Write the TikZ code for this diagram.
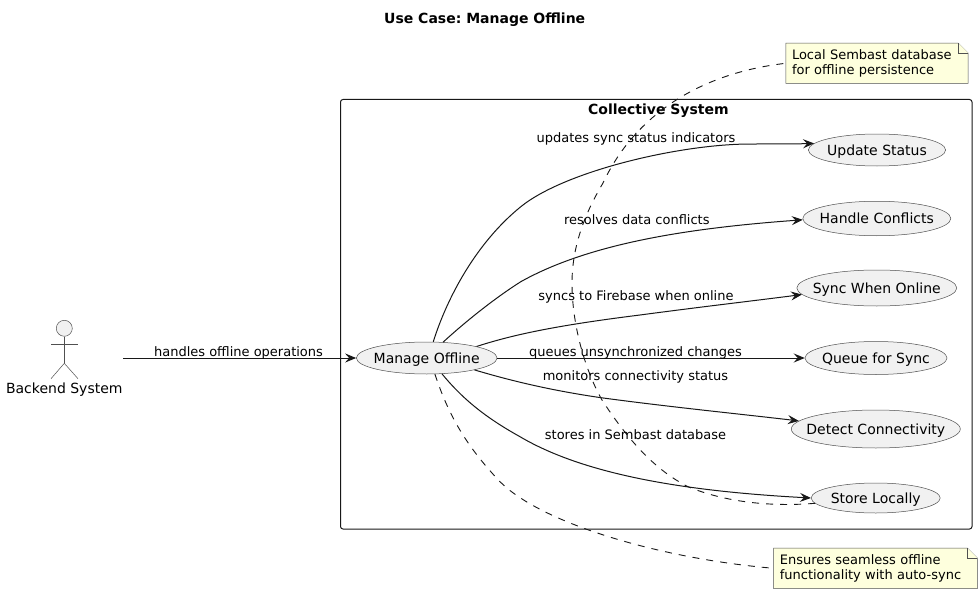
\documentclass[tikz,border=0pt]{standalone}
\usepackage{fontspec}
\setmainfont{DejaVu Sans}
\usetikzlibrary{shapes.geometric,arrows.meta,backgrounds}
\definecolor{umlline}{HTML}{181818}
\definecolor{umlthin}{HTML}{505050}
\definecolor{umlfill}{HTML}{F1F1F1}
\definecolor{notefill}{HTML}{FEFFDD}
\newcommand{\uctext}[1]{\makebox[0pt][c]{\raisebox{-5pt}[0pt][0pt]{#1}}}
\tikzset{
  usecase/.style={ellipse,draw=umlthin,line width=0.5pt,fill=umlfill,inner sep=0pt,font=\fontsize{14}{16}\selectfont,text=black},
  elabel/.style={inner sep=0pt,font=\fontsize{13}{15}\selectfont,text=black},
  notebox/.style={rectangle,inner sep=0pt,inner xsep=6pt,minimum height=40pt,align=left,font=\fontsize{13}{15}\selectfont,text=black},
  noteshape/.style={draw=umlthin,line width=0.5pt,fill=notefill,line join=miter},
  link/.style={draw=umlline,line width=1pt,-{Stealth[length=11pt,width=9pt,inset=4pt]}},
  notelink/.style={draw=umlline,line width=0.9pt,dash pattern=on 7pt off 7pt},
  actorline/.style={draw=umlthin,line width=0.5pt},
}
\begin{document}
\frenchspacing
\begin{tikzpicture}[x=1pt,y=-1pt]
\useasboundingbox (0,0) rectangle (978,594);
\begin{scope}[on background layer]
  \fill[white] (0,0) rectangle (978,594);
\end{scope}

\node[inner sep=0pt,font=\fontsize{14}{16}\selectfont\bfseries] (title) at (484.7,19.5) {Use Case: Manage Offline};

% frame
\draw[draw=umlline,line width=1pt,rounded corners=2.5pt] (340.5,99.5) rectangle (972,529);
\node[inner sep=0pt,font=\fontsize{14}{16}\selectfont\bfseries] (frame) at (658.4,110.5) {Collective System};

% use cases
\node[usecase,minimum width=140.6pt,minimum height=32pt] (mo) at (426.7,358) {\uctext{Manage Offline}};
\node[usecase,minimum width=137.2pt,minimum height=32pt] (us) at (877,150) {\uctext{Update Status}};
\node[usecase,minimum width=148pt,minimum height=34.5pt] (hc) at (876.8,218.5) {\uctext{Handle Conflicts}};
\node[usecase,minimum width=160pt,minimum height=36pt] (so) at (876.8,288) {\uctext{Sync When Online}};
\node[usecase,minimum width=142pt,minimum height=33pt] (qs) at (876,358) {\uctext{Queue for Sync}};
\node[usecase,minimum width=169pt,minimum height=38pt] (dc) at (875.8,429) {\uctext{Detect Connectivity}};
\node[usecase,minimum width=129pt,minimum height=30pt] (sl) at (875.7,498) {\uctext{Store Locally}};

% actor
\node[circle,draw=umlthin,line width=0.5pt,fill=umlfill,minimum size=16pt,inner sep=0pt] (head) at (64.3,328.3) {};
\coordinate (hip) at (64.3,363.3);
\coordinate (armL) at (51,344);
\coordinate (armR) at (78,344);
\coordinate (legL) at (51,378.7);
\coordinate (legR) at (78,378.7);
\draw[actorline] (head.south) -- (hip);
\draw[actorline] (armL) -- (armR);
\draw[actorline] (legL) -- (hip) -- (legR);
\node[inner sep=0pt,font=\fontsize{14}{16}\selectfont] (actor) at (64.3,389.5) {Backend System};
\coordinate (actorout) at (123,358);

% notes
\node[notebox,text width=191.4pt,anchor=west] (n2) at (773.6,568.3) {Ensures seamless offline\\functionality with auto-sync};
\node[notebox,text width=170pt,anchor=west] (n1) at (785.8,63.3) {Local Sembast database\\for offline persistence};
\begin{scope}[on background layer]
  \draw[noteshape] (n1.south west) -- (n1.north west) -- ([xshift=-10pt]n1.north east) -- ([yshift=-10pt]n1.north east) -- (n1.south east) -- cycle;
  \draw[noteshape] ([xshift=-10pt]n1.north east) -- ([xshift=-10pt,yshift=-10pt]n1.north east) -- ([yshift=-10pt]n1.north east);
  \draw[noteshape] (n2.south west) -- (n2.north west) -- ([xshift=-10pt]n2.north east) -- ([yshift=-10pt]n2.north east) -- (n2.south east) -- cycle;
  \draw[noteshape] ([xshift=-10pt]n2.north east) -- ([xshift=-10pt,yshift=-10pt]n2.north east) -- ([yshift=-10pt]n2.north east);
\end{scope}

% connectors
\draw[link] (actorout) -- (mo.west);
\draw[link] (mo.68.5) .. controls (447,298) and (476,243) .. (520.8,206.7) .. controls (565,171) and (680,144) .. (750.8,144) .. controls (775,144) and (795,144) .. (us.174.6);
\draw[link] (mo.44) .. controls (465,322) and (495,298) .. (520.8,281.7) .. controls (590,243) and (690,228) .. (hc.181);
\draw[link] (mo.13.7) .. controls (515,334) and (560,325) .. (640,315) .. controls (700,307) and (760,300) .. (so.185.5);
\draw[link] (mo.east) -- (qs.west);
\draw[link] (mo.-14) .. controls (515,382) and (555,391) .. (601,397.7) .. controls (670,407) and (740,414) .. (dc.174);
\draw[link] (mo.-46) .. controls (465,402) and (490,420) .. (520,436.7) .. controls (590,478) and (700,492) .. (sl.west);
\draw[notelink] (mo.-63) .. controls (450,420) and (470,450) .. (500,481.7) .. controls (540,522) and (655,558) .. (n2.west);
\draw[notelink] (sl.185.9) .. controls (770,507) and (725,502) .. (688,486.7) .. controls (655,470) and (628,440) .. (602,400) .. controls (585,370) and (572,325) .. (572,283) .. controls (572,240) and (590,205) .. (603,183) .. controls (635,115) and (700,73) .. (n1.west);

% labels
\node[elabel] (l0) at (238.5,352.5) {handles offline operations};
\node[elabel] (l1) at (636,138.5) {updates sync status indicators};
\node[elabel] (l2) at (636.8,219.5) {resolves data conflicts};
\node[elabel] (l3) at (636,296.5) {syncs to Firebase when online};
\node[elabel] (l4) at (635.5,352.5) {queues unsynchronized changes};
\node[elabel] (l5) at (635.5,377) {monitors connectivity status};
\node[elabel] (l6) at (635.5,435) {stores in Sembast database};
\end{tikzpicture}
\end{document}
